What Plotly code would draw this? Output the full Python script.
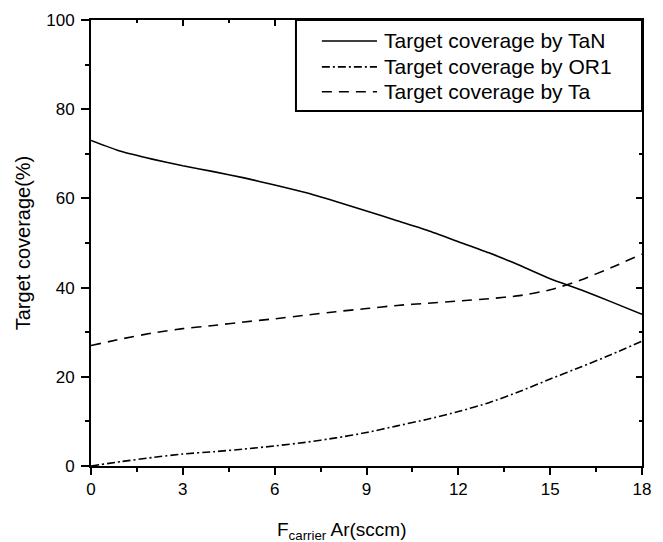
import plotly.graph_objects as go

x_vals = [0, 1, 2, 3, 4, 5, 6, 7, 8, 9, 10, 11, 12, 13, 14, 15, 16, 17, 18]
tan_cov = [73, 70.5, 68.8, 67.3, 66, 64.6, 63, 61.3, 59.3, 57.2, 55, 52.8, 50.3, 47.8, 45, 42, 39.5, 36.8, 34]
or1_cov = [0, 1, 1.9, 2.7, 3.2, 3.8, 4.5, 5.3, 6.3, 7.5, 9, 10.5, 12.2, 14.2, 16.7, 19.5, 22.2, 25, 28]
ta_cov = [27, 28.5, 29.8, 30.8, 31.5, 32.3, 33, 33.8, 34.6, 35.3, 36, 36.5, 37, 37.5, 38.2, 39.5, 41.7, 44.5, 47.5]
series_names = ["Target coverage by TaN", "Target coverage by OR1", "Target coverage by Ta"]
series_dash = ["solid", "8px,3px,2px,3px", "10px,7px"]
x_ticks = [0, 3, 6, 9, 12, 15, 18]
y_ticks = [0, 20, 40, 60, 80, 100]

FONT = "Liberation Sans, Arial, sans-serif"

fig = go.Figure()
for yv, nm, ds in zip([tan_cov, or1_cov, ta_cov], series_names, series_dash):
    fig.add_trace(go.Scatter(x=x_vals, y=yv, name=nm, mode="lines", showlegend=False,
                             line=dict(color="black", width=1.6, dash=ds, shape="spline", smoothing=0.6)))
# invisible trace to anchor mirror axes
fig.add_trace(go.Scatter(x=[0, 18], y=[0, 100], xaxis="x2", yaxis="y2", mode="markers",
                         marker=dict(opacity=0), showlegend=False, hoverinfo="skip"))

# manual legend box (paper coordinates)
shapes = [dict(type="rect", xref="paper", yref="paper", x0=0.372, x1=1.0, y0=0.796, y1=1.0,
               line=dict(color="black", width=2), fillcolor="white", layer="above")]
annotations = []
row_y = [0.953, 0.895, 0.839]
for ry, nm, ds in zip(row_y, series_names, series_dash):
    shapes.append(dict(type="line", xref="paper", yref="paper", x0=0.419, x1=0.519, y0=ry, y1=ry,
                       line=dict(color="black", width=1.6, dash=ds), layer="above"))
    annotations.append(dict(text=nm, xref="paper", yref="paper", x=0.528, y=ry, xanchor="left",
                            yanchor="middle", showarrow=False, font=dict(size=21, family=FONT)))

annotations.append(dict(text="F<sub>carrier</sub> Ar(sccm)", xref="paper", yref="paper",
                        x=0.455, y=-0.115, xanchor="center", yanchor="top", showarrow=False,
                        font=dict(size=19, family=FONT)))

fig.update_layout(
    width=663, height=542,
    margin=dict(l=91, r=21, t=20, b=76),
    plot_bgcolor="white", paper_bgcolor="white",
    font=dict(family=FONT, size=17, color="black"),
    showlegend=False,
    xaxis=dict(range=[0, 18], tickvals=x_ticks, ticktext=[str(v) for v in x_ticks],
               showgrid=False, zeroline=False, showline=True, linecolor="black", linewidth=2,
               ticks="outside", ticklen=7, tickwidth=2, tickcolor="black",
               minor=dict(ticks="outside", ticklen=4, tickwidth=1.5, tickcolor="black", dtick=1.5),
               tickfont=dict(size=17)),
    yaxis=dict(range=[0, 100], tickvals=y_ticks, ticktext=[str(v) for v in y_ticks],
               showgrid=False, zeroline=False, showline=True, linecolor="black", linewidth=2,
               ticks="outside", ticklen=8, tickwidth=2, tickcolor="black",
               minor=dict(ticks="outside", ticklen=4, tickwidth=1.5, tickcolor="black", dtick=10),
               tickfont=dict(size=17), ticklabelstandoff=3,
               title=dict(text="Target coverage(%)", font=dict(size=20), standoff=10)),
    xaxis2=dict(range=[0, 18], overlaying="x", side="top", anchor="y",
                tickvals=x_ticks, showticklabels=False, showgrid=False, zeroline=False,
                showline=True, linecolor="black", linewidth=2,
                ticks="inside", ticklen=6, tickwidth=2, tickcolor="black",
                minor=dict(ticks="inside", ticklen=3, tickwidth=1.5, tickcolor="black", dtick=1.5)),
    yaxis2=dict(range=[0, 100], overlaying="y", side="right", anchor="x",
                tickvals=y_ticks, showticklabels=False, showgrid=False, zeroline=False,
                showline=True, linecolor="black", linewidth=2,
                ticks="inside", ticklen=6, tickwidth=2, tickcolor="black",
                minor=dict(ticks="inside", ticklen=3, tickwidth=1.5, tickcolor="black", dtick=10)),
    shapes=shapes,
    annotations=annotations,
)

fig.write_html("out.html")
